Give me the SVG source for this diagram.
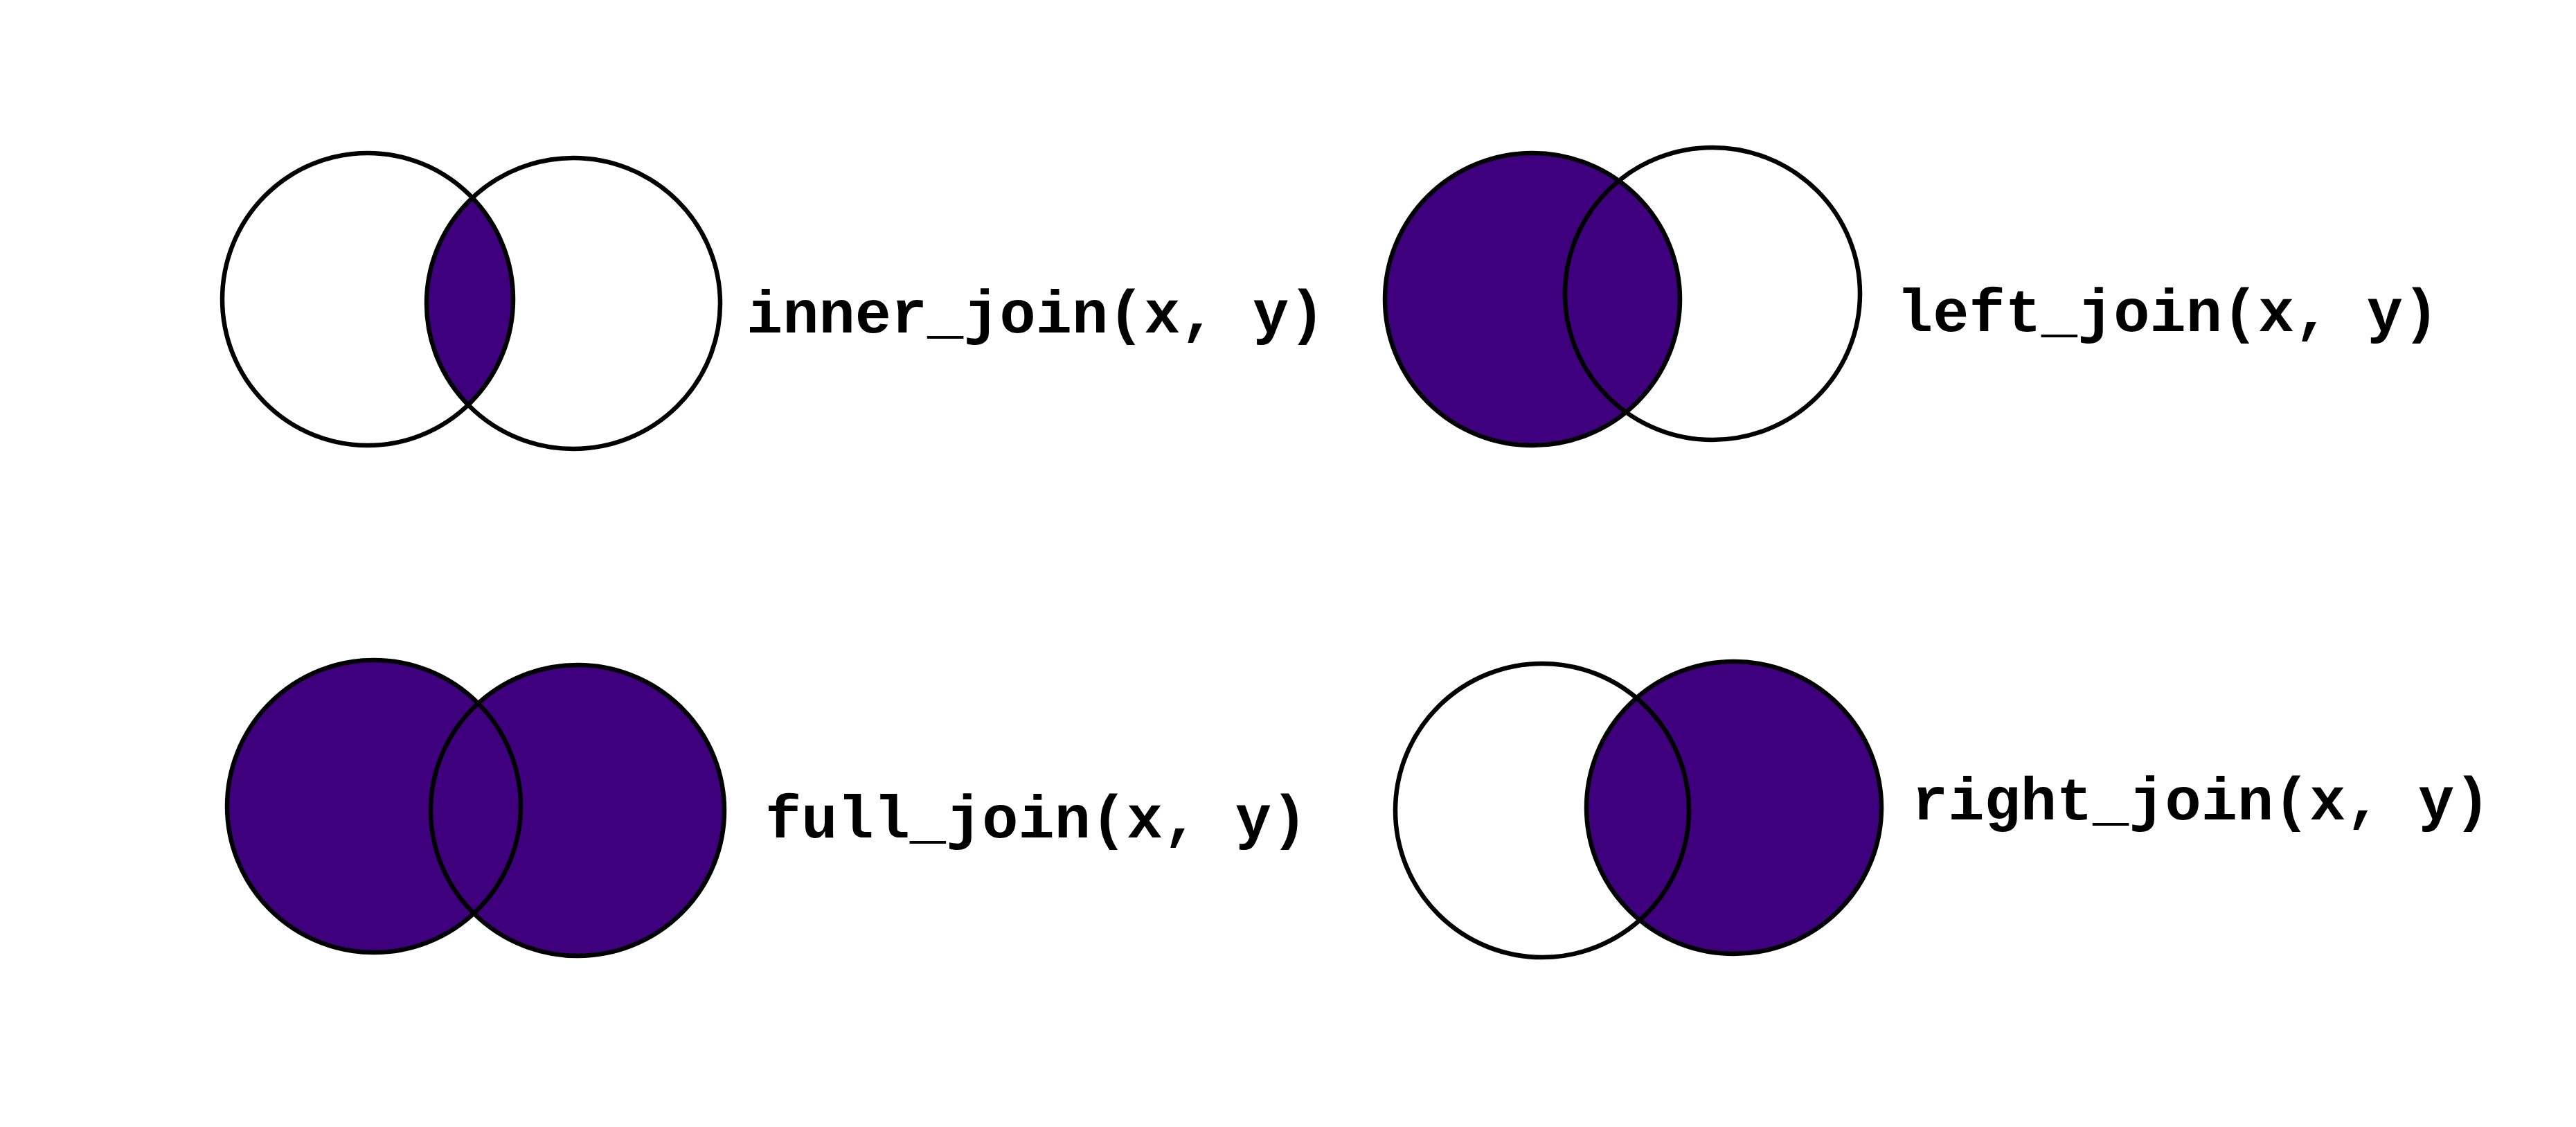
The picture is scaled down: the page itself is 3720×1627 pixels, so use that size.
<svg xmlns="http://www.w3.org/2000/svg" width="3720" height="1627" viewBox="0 0 3720 1627">
<style>
.o{fill:none;stroke:#000;stroke-width:6.5}
.f{fill:#3f007d;stroke:none}
.t{font-family:"Liberation Mono","Courier New",monospace;font-weight:bold;font-size:87px;fill:#000}
</style>
<defs>
<clipPath id="clipInnerR"><ellipse cx="828" cy="438" rx="212" ry="210"/></clipPath>
</defs>
<rect width="3720" height="1627" fill="#fff"/>
<g id="inner_join">
<ellipse class="f" cx="531" cy="432" rx="210" ry="211" clip-path="url(#clipInnerR)"/>
<ellipse class="o" cx="531" cy="432" rx="210" ry="211"/>
<ellipse class="o" cx="828" cy="438" rx="212" ry="210"/>
<text class="t" x="1078" y="480">inner_join(x, y)</text>
</g>
<g id="left_join">
<ellipse class="f" cx="2213" cy="432" rx="213" ry="211"/>
<ellipse class="o" cx="2213" cy="432" rx="213" ry="211"/>
<ellipse class="o" cx="2473" cy="424" rx="213" ry="211"/>
<text class="t" x="2739" y="478">left_join(x, y)</text>
</g>
<g id="full_join">
<ellipse class="f" cx="540" cy="1164" rx="212" ry="211"/>
<ellipse class="f" cx="834" cy="1170" rx="212" ry="210"/>
<ellipse class="o" cx="540" cy="1164" rx="212" ry="211"/>
<ellipse class="o" cx="834" cy="1170" rx="212" ry="210"/>
<text class="t" x="1105" y="1209">full_join(x, y)</text>
</g>
<g id="right_join">
<ellipse class="f" cx="2504" cy="1166" rx="213" ry="211"/>
<ellipse class="o" cx="2227" cy="1170" rx="212" ry="212"/>
<ellipse class="o" cx="2504" cy="1166" rx="213" ry="211"/>
<text class="t" x="2761" y="1183">right_join(x, y)</text>
</g>
<g id="connectors"/>
</svg>
